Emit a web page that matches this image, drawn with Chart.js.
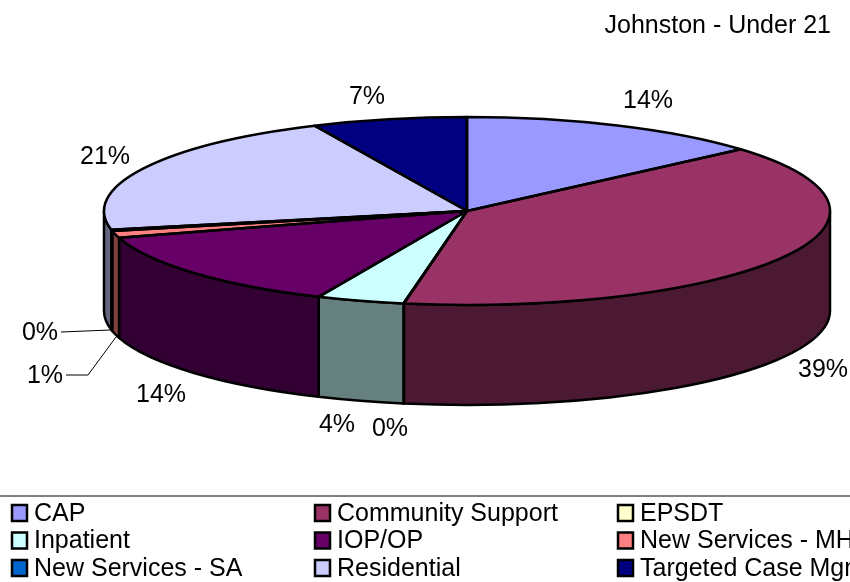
<!DOCTYPE html>
<html>
<head>
<meta charset="utf-8">
<title>Johnston - Under 21</title>
<script src="https://cdn.jsdelivr.net/npm/chart.js@4/dist/chart.umd.min.js"></script>
<style>
    html, body { margin: 0; padding: 0; background: #fff; overflow: hidden; }
    canvas { display: block; }
</style>
</head>
<body>
<canvas id="pie-chart" width="850" height="582"></canvas>
<script>
const categories = ['CAP', 'Community Support', 'EPSDT', 'Inpatient', 'IOP/OP', 'New Services - MH', 'New Services - SA', 'Residential', 'Targeted Case Mgmt'];
const shares = [13.6, 39.18, 0.02, 3.9, 13.7, 1.2, 0.2, 21.3, 6.9];
const colors = ['#9999ff', '#993366', '#ffffcc', '#ccffff', '#660066', '#ff8080', '#0066cc', '#ccccff', '#000080'];

const FONT = '25px "Liberation Sans", Arial, sans-serif';
const RADIUS = 363;
const SQUASH = 94 / 363; // tilt of the pie
const DEPTH = 100;
const EDGE = 2.5;

// where each percentage sits, same order as the categories
const labelSpots = [[648, 101], [823, 370], [390, 429], [337, 425], [161, 395], [45, 376], [40, 333], [105, 157], [367, 97]];

function darker(hex) {
    let n = parseInt(hex.slice(1), 16);
    return 'rgb(' + ((n >> 16) >> 1) + ',' + (((n >> 8) & 255) >> 1) + ',' + ((n & 255) >> 1) + ')';
}

const pie3d = {
    id: 'pie3d',
    beforeDatasetsDraw(chart) {
        const ctx = chart.ctx;
        const arcs = chart.getDatasetMeta(0).data;
        ctx.save();
        ctx.lineWidth = EDGE;
        ctx.strokeStyle = '#000';
        ctx.lineJoin = 'round';
        // side wall, only the front half of the rim can be seen
        arcs.forEach((arc, i) => {
            let a0 = Math.max(arc.startAngle, 0);
            let a1 = Math.min(arc.endAngle, Math.PI);
            if (a1 <= a0) {
                return;
            }
            let ry = arc.outerRadius * SQUASH;
            ctx.beginPath();
            ctx.ellipse(arc.x, arc.y, arc.outerRadius, ry, 0, a0, a1);
            ctx.ellipse(arc.x, arc.y + DEPTH, arc.outerRadius, ry, 0, a1, a0, true);
            ctx.closePath();
            ctx.fillStyle = darker(colors[i]);
            ctx.fill();
            ctx.stroke();
        });
        ctx.restore();
        // the library draws the slices through this squash
        const first = arcs[0];
        ctx.save();
        ctx.translate(first.x, first.y);
        ctx.scale(1, SQUASH);
        ctx.translate(-first.x, -first.y);
    },
    afterDatasetsDraw(chart) {
        const ctx = chart.ctx;
        ctx.restore();
        const arcs = chart.getDatasetMeta(0).data;
        ctx.save();
        ctx.lineWidth = EDGE;
        ctx.strokeStyle = '#000';
        ctx.lineJoin = 'round';
        arcs.forEach((arc) => {
            ctx.beginPath();
            ctx.moveTo(arc.x, arc.y);
            ctx.ellipse(arc.x, arc.y, arc.outerRadius, arc.outerRadius * SQUASH, 0, arc.startAngle, arc.endAngle);
            ctx.closePath();
            ctx.stroke();
        });
        ctx.restore();
    },
    afterDraw(chart) {
        const ctx = chart.ctx;
        ctx.save();
        ctx.fillStyle = '#000';
        ctx.font = FONT;
        ctx.textBaseline = 'middle';

        // title
        ctx.textAlign = 'right';
        ctx.fillText('Johnston - Under 21', 831, 26);

        // percentages
        ctx.textAlign = 'center';
        shares.forEach((share, i) => {
            ctx.fillText(Math.round(share) + '%', labelSpots[i][0], labelSpots[i][1]);
        });

        // leader lines for the two thin slices
        ctx.strokeStyle = '#000';
        ctx.lineWidth = 1;
        ctx.beginPath();
        ctx.moveTo(61, 332);
        ctx.lineTo(110, 330);
        ctx.moveTo(66, 375);
        ctx.lineTo(88, 375);
        ctx.lineTo(116, 337);
        ctx.stroke();

        // legend
        ctx.strokeStyle = '#808080';
        ctx.lineWidth = 2;
        ctx.beginPath();
        ctx.moveTo(0, 496);
        ctx.lineTo(850, 496);
        ctx.stroke();

        ctx.textAlign = 'left';
        categories.forEach((name, i) => {
            let col = i % 3;
            let row = Math.floor(i / 3);
            let x = 12 + col * 303;
            let y = 505 + row * 27.5;
            ctx.fillStyle = colors[i];
            ctx.fillRect(x, y, 15, 16);
            ctx.strokeStyle = '#000';
            ctx.lineWidth = 2.5;
            ctx.strokeRect(x, y, 15, 16);
            ctx.fillStyle = '#000';
            ctx.fillText(name, x + 22, y + 9);
        });
        ctx.restore();
    }
};

new Chart(document.getElementById('pie-chart'), {
    type: 'pie',
    data: {
        labels: categories,
        datasets: [{
            data: shares,
            backgroundColor: colors,
            borderWidth: 0,
            clip: false,
            radius: RADIUS
        }]
    },
    options: {
        responsive: false,
        animation: false,
        // puts the pie centre at 467,211
        layout: {padding: {left: 84, right: 0, top: 0, bottom: 160}},
        plugins: {legend: {display: false}, tooltip: {enabled: false}}
    },
    plugins: [pie3d]
});
</script>
</body>
</html>
